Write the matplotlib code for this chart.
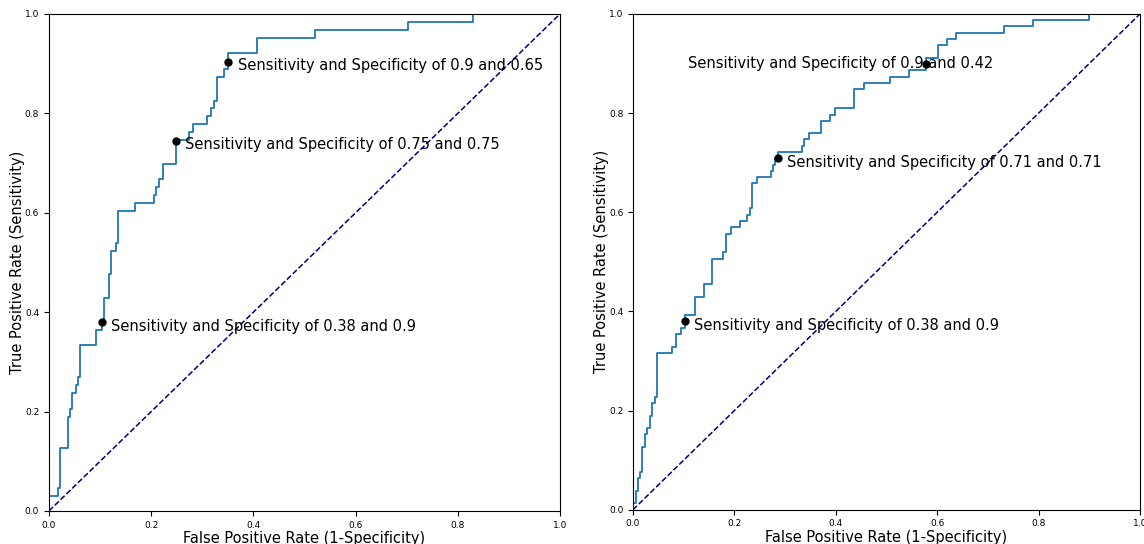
import matplotlib.pyplot as plt

# ROC curve corners (fpr, tpr)
fpr_left = [0.0, 0.0, 0.018, 0.022, 0.037, 0.041, 0.046, 0.052, 0.056, 0.061, 0.093, 0.103,
            0.108, 0.117, 0.121, 0.131, 0.136, 0.169, 0.206, 0.21, 0.215, 0.224, 0.249,
            0.275, 0.281, 0.309, 0.318, 0.323, 0.328, 0.342, 0.351, 0.408, 0.52, 0.703,
            0.829, 1.0]
tpr_left = [0.0, 0.031, 0.047, 0.127, 0.19, 0.206, 0.238, 0.254, 0.27, 0.333, 0.365, 0.381,
            0.429, 0.476, 0.524, 0.54, 0.603, 0.619, 0.635, 0.651, 0.667, 0.698, 0.746,
            0.762, 0.778, 0.794, 0.81, 0.825, 0.873, 0.889, 0.921, 0.952, 0.968, 0.984,
            1.0, 1.0]

fpr_right = [0.0, 0.0, 0.005, 0.01, 0.013, 0.018, 0.024, 0.028, 0.033, 0.038, 0.043, 0.047,
             0.076, 0.085, 0.094, 0.103, 0.122, 0.141, 0.155, 0.178, 0.183, 0.193, 0.212,
             0.225, 0.23, 0.235, 0.244, 0.272, 0.277, 0.281, 0.286, 0.333, 0.338, 0.347,
             0.371, 0.389, 0.399, 0.436, 0.455, 0.506, 0.544, 0.577, 0.601, 0.62, 0.638,
             0.732, 0.788, 0.9, 1.0]
tpr_right = [0.0, 0.013, 0.038, 0.063, 0.076, 0.127, 0.152, 0.165, 0.19, 0.215, 0.228, 0.316,
             0.329, 0.354, 0.367, 0.392, 0.43, 0.456, 0.506, 0.519, 0.557, 0.57, 0.582,
             0.595, 0.608, 0.658, 0.671, 0.684, 0.696, 0.709, 0.722, 0.734, 0.747, 0.759,
             0.785, 0.797, 0.81, 0.848, 0.861, 0.873, 0.886, 0.911, 0.937, 0.949, 0.962,
             0.975, 0.987, 1.0, 1.0]

# highlighted operating points: (fpr, tpr, sensitivity, specificity)
pts_left = [(0.103, 0.38, 0.38, 0.9), (0.249, 0.745, 0.75, 0.75), (0.351, 0.904, 0.9, 0.65)]
pts_right = [(0.103, 0.38, 0.38, 0.9), (0.286, 0.709, 0.71, 0.71), (0.577, 0.9, 0.9, 0.42)]

fig = plt.figure(figsize=(11.44, 5.44), dpi=100)
ax1 = fig.add_axes([0.0428, 0.0607, 0.4467, 0.9136])
ax2 = fig.add_axes([0.5533, 0.063, 0.4432, 0.9114])


def draw(ax, fpr, tpr, pts, text_x=None):
    ax.step(fpr, tpr, where='post', color='C0', lw=1.3)
    ax.plot([0, 1], [0, 1], color='navy', lw=1.1, linestyle='--')
    for i, (x, y, s, sp) in enumerate(pts):
        ax.plot(x, y, 'o', color='black', markersize=5)
        tx = x + 0.018
        ty = y - 0.008
        if text_x is not None and i == len(pts) - 1:
            tx = text_x
            ty = y
        ax.text(tx, ty, 'Sensitivity and Specificity of %s and %s' % (s, sp),
                fontsize=10.5, va='center')
    ax.set_xlim(0, 1)
    ax.set_ylim(0, 1)
    ax.tick_params(labelsize=6.5)
    ax.set_xlabel('False Positive Rate (1-Specificity)', fontsize=10.5, labelpad=1)
    ax.set_ylabel('True Positive Rate (Sensitivity)', fontsize=10.5, labelpad=0)


draw(ax1, fpr_left, tpr_left, pts_left)
draw(ax2, fpr_right, tpr_right, pts_right, text_x=0.108)

fig.savefig('out.png', dpi=100)
